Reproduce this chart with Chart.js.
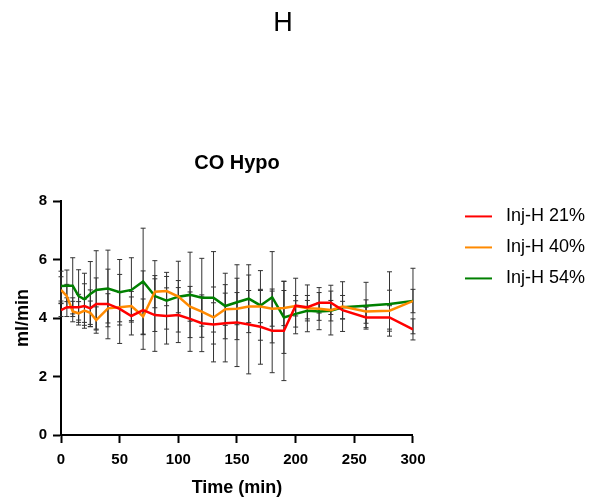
<html>
  <head>
    <style>
      body { margin: 0; background: #fff; }
      .chart-container { position: relative; width: 605px; height: 500px; }
      .panel-letter {
        position: absolute; left: 0; top: 6px; width: 566px; height: 32px;
        line-height: 32px; text-align: center;
        font-family: 'Liberation Sans', Arial, sans-serif; font-size: 27px; color: #000;
      }
    </style>
  </head>
  <body>
    <div class="chart-container">
      <canvas id="coChart" width="605" height="500"></canvas>
      <div class="panel-letter">H</div>
    </div>

    <script src="https://cdn.jsdelivr.net/npm/chart.js@4.4.1/dist/chart.umd.min.js"></script>
    <script>
// time points (min)
const times = [0, 5, 10, 15, 20, 25, 30, 40, 50, 60, 70, 80, 90, 100, 110, 120, 130, 140, 150, 160, 170, 180, 190, 200, 210, 220, 230, 240, 260, 280, 300];

// means (ml/min)
const inj21 = [4.27, 4.37, 4.37, 4.37, 4.41, 4.33, 4.48, 4.48, 4.31, 4.07, 4.27, 4.10, 4.07, 4.10, 3.97, 3.82, 3.78, 3.82, 3.85, 3.78, 3.70, 3.56, 3.56, 4.42, 4.37, 4.52, 4.52, 4.27, 4.02, 4.02, 3.61];
const inj40 = [4.96, 4.75, 4.22, 4.16, 4.25, 4.18, 3.93, 4.33, 4.37, 4.41, 4.05, 4.90, 4.92, 4.73, 4.39, 4.22, 4.02, 4.30, 4.32, 4.39, 4.39, 4.32, 4.34, 4.41, 4.33, 4.32, 4.27, 4.39, 4.22, 4.25, 4.58];
const inj54 = [5.09, 5.10, 5.10, 4.75, 4.64, 4.82, 4.96, 5.01, 4.88, 4.96, 5.25, 4.75, 4.59, 4.73, 4.79, 4.69, 4.69, 4.41, 4.54, 4.66, 4.43, 4.71, 4.02, 4.14, 4.25, 4.22, 4.25, 4.37, 4.42, 4.48, 4.58];

// error bars (+/-)
const inj21Err = [0.22, 0.32, 0.32, 0.44, 0.76, 0.63, 0.89, 1.19, 1.18, 0.65, 1.34, 1.24, 0.96, 0.94, 1.11, 0.97, 1.28, 1.32, 1.51, 1.69, 1.28, 1.43, 1.70, 0.35, 0.40, 0.35, 0.40, 0.30, 0.35, 0.40, 0.36];
const inj40Err = [0.45, 0.40, 0.35, 0.40, 0.40, 0.40, 0.45, 0.50, 0.50, 0.50, 0.60, 0.55, 0.50, 0.55, 0.50, 0.50, 0.50, 0.55, 0.55, 0.55, 0.55, 0.60, 0.60, 0.95, 0.80, 0.72, 0.85, 0.85, 0.40, 0.70, 0.40];
const inj54Err = [0.51, 0.54, 0.96, 0.90, 0.89, 1.11, 1.34, 1.31, 1.12, 1.10, 1.82, 1.21, 0.97, 1.21, 1.46, 1.35, 1.58, 1.12, 1.28, 1.16, 1.19, 1.56, 1.23, 0.45, 0.35, 0.30, 0.35, 0.40, 0.80, 1.10, 1.12];

const seriesNames = ["Inj-H 21%", "Inj-H 40%", "Inj-H 54%"];
const seriesColors = ['#ff0000', '#ff8a00', '#008000'];
const yTicks = [0, 2, 4, 6, 8];
const xTicks = [0, 50, 100, 150, 200, 250, 300];

const FONT = "'Liberation Sans', Arial, sans-serif";

// legend marks: short line with empty space on the left
function legendMark(color) {
  const c = document.createElement('canvas');
  c.width = 71;
  c.height = 4;
  const g = c.getContext('2d');
  g.strokeStyle = color;
  g.lineWidth = 2;
  g.beginPath();
  g.moveTo(39, 2);
  g.lineTo(66, 2);
  g.stroke();
  return c;
}
const legendMarks = seriesColors.map(legendMark);

// draws the vertical error bars with caps
const errorBars = {
  id: 'errorBars',
  beforeDatasetsDraw(chart) {
    const {ctx, scales: {x, y}} = chart;
    ctx.save();
    ctx.strokeStyle = '#333';
    ctx.lineWidth = 1;
    chart.data.datasets.forEach(ds => {
      ds.data.forEach((p, i) => {
        const px = x.getPixelForValue(p.x);
        const top = y.getPixelForValue(p.y + ds.err[i]);
        const bot = y.getPixelForValue(p.y - ds.err[i]);
        ctx.beginPath();
        ctx.moveTo(px, top);
        ctx.lineTo(px, bot);
        ctx.moveTo(px - 2.5, top);
        ctx.lineTo(px + 2.5, top);
        ctx.moveTo(px - 2.5, bot);
        ctx.lineTo(px + 2.5, bot);
        ctx.stroke();
      });
    });
    ctx.restore();
  }
};

function makeSet(i, values, errs) {
  return {
    label: seriesNames[i],
    data: times.map((t, k) => ({x: t, y: values[k]})),
    err: errs,
    borderColor: seriesColors[i],
    backgroundColor: seriesColors[i],
    borderWidth: 2.5,
    pointRadius: 0,
    tension: 0,
    fill: false,
  };
}

const ctx = document.getElementById('coChart').getContext('2d');
new Chart(ctx, {
  type: 'line',
  data: {
    datasets: [
      makeSet(0, inj21, inj21Err),
      makeSet(1, inj40, inj40Err),
      makeSet(2, inj54, inj54Err),
    ]
  },
  options: {
    responsive: false,
    animation: false,
    layout: {padding: {left: 0, top: 0, bottom: 0, right: 10}},
    scales: {
      x: {
        type: 'linear',
        min: 0,
        max: 300,
        afterFit: s => { s.height = 65; },
        afterBuildTicks: s => { s.ticks = xTicks.map(v => ({value: v})); },
        grid: {drawOnChartArea: false, drawTicks: true, tickLength: 8, tickWidth: 2, tickColor: '#000'},
        border: {display: true, color: '#000', width: 2},
        ticks: {color: '#000', padding: 8, maxRotation: 0, font: {family: FONT, size: 15, weight: 'bold'}},
        title: {display: true, text: 'Time (min)', color: '#000', padding: {top: 0, bottom: 1}, font: {family: FONT, size: 18, weight: 'bold'}},
      },
      y: {
        min: 0,
        max: 8,
        afterFit: s => { s.width = 61; },
        afterBuildTicks: s => { s.ticks = yTicks.map(v => ({value: v})); },
        grid: {drawOnChartArea: false, drawTicks: true, tickLength: 8, tickWidth: 2, tickColor: '#000'},
        border: {display: true, color: '#000', width: 2},
        ticks: {color: '#000', padding: 6, font: {family: FONT, size: 15, weight: 'bold'}},
        title: {display: true, text: 'ml/min', color: '#000', padding: {top: 12, bottom: 0}, font: {family: FONT, size: 18, weight: 'bold'}},
      },
    },
    plugins: {
      title: {display: false},
      subtitle: {
        display: true,
        text: 'CO Hypo',
        fullSize: false,
        color: '#000',
        padding: {top: 151, bottom: 26},
        font: {family: FONT, size: 20, weight: 'bold'},
      },
      legend: {
        position: 'right',
        align: 'start',
        maxWidth: 192,
        title: {display: true, text: '', padding: {top: 0, bottom: 180}},
        labels: {
          usePointStyle: true,
          pointStyleWidth: 71,
          padding: 13,
          color: '#000',
          font: {family: FONT, size: 18},
          generateLabels: chart => {
            const items = Chart.defaults.plugins.legend.labels.generateLabels(chart);
            items.forEach(it => { it.pointStyle = legendMarks[it.datasetIndex]; });
            return items;
          }
        }
      },
      tooltip: {enabled: false},
    }
  },
  plugins: [errorBars]
});
    </script>
  </body>
</html>
